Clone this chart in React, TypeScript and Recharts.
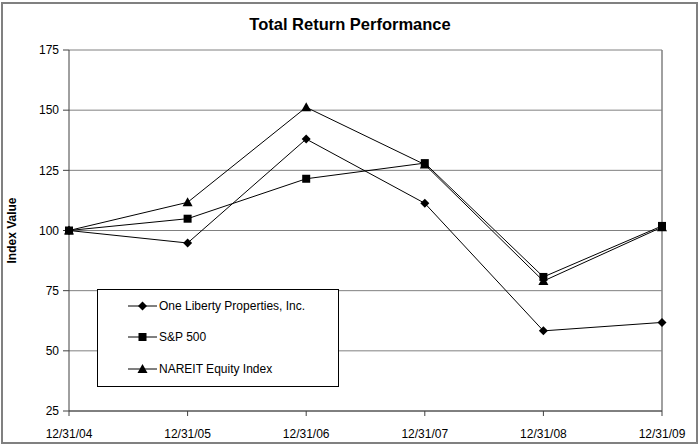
import { LineChart, Line, XAxis, YAxis, CartesianGrid, Legend, ReferenceLine } from 'recharts';

const dates = ['12/31/04', '12/31/05', '12/31/06', '12/31/07', '12/31/08', '12/31/09'];
const oneLiberty = [100, 94.8, 138, 111.3, 58.3, 61.8];
const sp500 = [100, 104.9, 121.5, 128, 80.7, 101.9];
const nareit = [100, 111.7, 151.2, 127.4, 79, 101.4];
const yTicks = [25, 50, 75, 100, 125, 150, 175];

const data = dates.map((d, i) => ({ date: d, one: oneLiberty[i], sp: sp500[i], nareit: nareit[i] }));

const FONT = 'Arial, "Liberation Sans", sans-serif';

function Diamond({ cx, cy }: any) {
  if (cx == null || cy == null) return null;
  const r = 4.5;
  return <path d={`M${cx},${cy - r}L${cx + r},${cy}L${cx},${cy + r}L${cx - r},${cy}Z`} fill="#000" />;
}

function Square({ cx, cy }: any) {
  if (cx == null || cy == null) return null;
  return <rect x={cx - 4} y={cy - 4} width={8} height={8} fill="#000" />;
}

function Triangle({ cx, cy }: any) {
  if (cx == null || cy == null) return null;
  return <path d={`M${cx},${cy - 5}L${cx + 5},${cy + 4}L${cx - 5},${cy + 4}Z`} fill="#000" />;
}

const legendItems = [
  { name: 'One Liberty Properties, Inc.', Marker: Diamond },
  { name: 'S&P 500', Marker: Square },
  { name: 'NAREIT Equity Index', Marker: Triangle },
];

function LegendBox() {
  return (
    <div
      style={{
        boxSizing: 'border-box',
        width: 242,
        height: 98,
        border: '1px solid #000',
        background: '#fff',
        paddingTop: 0,
        fontFamily: FONT,
        fontSize: 12,
      }}
    >
      {legendItems.map(({ name, Marker }) => (
        <div key={name} style={{ display: 'flex', alignItems: 'center', height: 31.5 }}>
          <svg width={62} height={14} style={{ marginLeft: 29 }}>
            <line x1={1} y1={7} x2={30} y2={7} stroke="#000" strokeWidth={1} />
            <Marker cx={15.5} cy={7} />
          </svg>
          <span style={{ marginLeft: -30, color: '#000' }}>{name}</span>
        </div>
      ))}
    </div>
  );
}

export default function App() {
  return (
    <div style={{ position: 'absolute', left: 0, top: 0, width: 700, height: 446, background: '#fff' }}>
      <div
        style={{
          position: 'absolute',
          left: 1,
          top: 2,
          width: 697,
          height: 442,
          boxSizing: 'border-box',
          border: '2px solid #808080',
        }}
      />
      <div
        style={{
          position: 'absolute',
          left: 0,
          top: 15,
          width: 700,
          textAlign: 'center',
          fontFamily: FONT,
          fontWeight: 'bold',
          fontSize: 16.5,
          color: '#000',
        }}
      >
        Total Return Performance
      </div>
      <div style={{ position: 'absolute', left: 0, top: 0 }}>
        <LineChart width={700} height={446} data={data} margin={{ top: 50, right: 38, left: 0, bottom: 0 }}>
          <CartesianGrid vertical={false} stroke="#808080" strokeWidth={1} />
          <XAxis
            dataKey="date"
            height={35}
            stroke="#404040"
            tickSize={5}
            tickMargin={13}
            tick={{ fill: '#000', fontSize: 12, fontFamily: FONT }}
            interval={0}
          />
          <YAxis
            width={69}
            domain={[25, 175]}
            ticks={yTicks}
            stroke="#404040"
            tickSize={6}
            tickMargin={4}
            tick={{ fill: '#000', fontSize: 12, fontFamily: FONT }}
            label={{
              value: 'Index Value',
              angle: -90,
              position: 'insideLeft',
              offset: 12,
              style: { textAnchor: 'middle', fontFamily: FONT, fontWeight: 'bold', fontSize: 12, fill: '#000' },
            }}
          />
          <ReferenceLine x="12/31/09" stroke="#808080" strokeWidth={1.5} />
          <Line dataKey="one" stroke="#000" strokeWidth={1} dot={<Diamond />} isAnimationActive={false} name="One Liberty Properties, Inc." />
          <Line dataKey="sp" stroke="#000" strokeWidth={1} dot={<Square />} isAnimationActive={false} name="S&P 500" />
          <Line dataKey="nareit" stroke="#000" strokeWidth={1} dot={<Triangle />} isAnimationActive={false} name="NAREIT Equity Index" />
          <Legend
            layout="vertical"
            align="center"
            verticalAlign="middle"
            content={() => <LegendBox />}
            wrapperStyle={{ position: 'absolute', left: 97, top: 289, width: 242, height: 98 }}
          />
        </LineChart>
      </div>
    </div>
  );
}
